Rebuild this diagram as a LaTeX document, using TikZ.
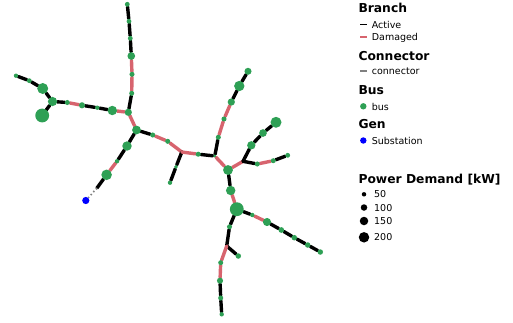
\documentclass[tikz,border=0pt]{standalone}
\usepackage{fontspec}
\setmainfont{DejaVu Sans}
\usetikzlibrary{backgrounds}
\definecolor{busgreen}{RGB}{46,160,85}
\definecolor{dmgred}{RGB}{215,100,110}
\definecolor{congray}{RGB}{128,128,128}
\definecolor{genblue}{RGB}{0,0,255}
\tikzset{
  bus/.style={circle, fill=busgreen, draw=none, inner sep=0pt, minimum size=#1},
  gen/.style={circle, fill=genblue, draw=none, inner sep=0pt, minimum size=#1},
  active/.style={draw=black, line width=3.4pt, line cap=round},
  damaged/.style={draw=dmgred, line width=3.4pt, line cap=round},
  conn/.style={draw=congray, line width=1.6pt, dash pattern=on 1.5pt off 2.5pt},
  legdot/.style={circle, fill=black, draw=none, inner sep=0pt, minimum size=#1},
  head/.style={anchor=base west, inner sep=0pt, font=\fontsize{12.3}{14}\selectfont\bfseries},
  item/.style={anchor=base west, inner sep=0pt, font=\fontsize{9.5}{11}\selectfont},
  legline/.style={line width=1.1pt},
}
\newcommand\BB[4]{\node[bus={1.1*#4pt}] (#1) at (#2,#3) {};}
\begin{document}
\begin{tikzpicture}[x=1pt,y=-1pt]
\useasboundingbox (0,0) rectangle (513,322);
% top branch
\BB{n1}{127.3}{4.3}{4.4}
\BB{n2}{129}{21.3}{4.4}
\BB{n3}{130.3}{38.3}{4.4}
\BB{n4}{131.3}{56}{7}
\BB{n5}{132}{74.3}{4.6}
\BB{n6}{131.7}{93.3}{4.6}
\BB{J1}{128.3}{112.3}{6.6}
% left branch
\BB{L1}{16}{75.7}{4}
\BB{L2}{29.3}{80.7}{4.4}
\BB{L3}{42.7}{88.5}{10}
\BB{L4}{52.5}{101.5}{8.4}
\BB{L5}{42.2}{115.5}{12.6}
\BB{L6}{67.3}{102.5}{4.6}
\BB{L7}{82}{105.3}{5.6}
\BB{L8}{97.3}{107.7}{4}
\BB{L9}{112.3}{110.5}{8.6}
% towards substation
\BB{J2}{136.5}{130}{8}
\BB{S1}{127}{146}{8.6}
\BB{S2}{117}{161.3}{4}
\BB{S3}{106.6}{174.8}{9.6}
\coordinate (C) at (97,188);
\node[gen=7.2pt] (G) at (85.8,200.5) {};
% middle
\BB{M1}{152.7}{135}{4.6}
\BB{M2}{167.7}{141.3}{4.6}
\coordinate (J3) at (181.8,152);
\BB{P1}{176}{166.8}{3.6}
\BB{P2}{170}{182.7}{4}
\BB{Q1}{198.2}{154.2}{4.6}
\BB{J4}{214.8}{156}{3}
% upper right
\BB{U1}{218.3}{137.3}{4.6}
\BB{U2}{224}{119}{4.6}
\BB{U3}{231.3}{102}{6.6}
\BB{U4}{239.3}{86}{9.4}
\BB{U5}{248}{71.3}{6.4}
% right
\BB{K}{228}{170}{9}
\coordinate (J5) at (243,161.3);
\BB{R1}{251.3}{145.3}{7.6}
\BB{R2}{263}{133}{7}
\BB{R3}{276}{122.3}{10}
\BB{R4}{257.3}{164}{4.6}
\BB{R5}{273.3}{160.7}{4.6}
\BB{R6}{287.7}{155.3}{4.4}
% down
\BB{D1}{230.7}{190.5}{8.6}
\BB{D2}{236.8}{209.2}{12.6}
\BB{E1}{252.3}{215}{4}
\BB{E2}{267}{222}{7.4}
\BB{E3}{281.3}{230}{5.2}
\BB{E4}{294.3}{237.7}{5}
\BB{E5}{307.7}{245}{5}
\BB{E6}{320.3}{252}{5}
\BB{F1}{229.5}{226.8}{4.6}
\coordinate (J6) at (226.7,246);
\BB{F2}{238.3}{256}{5}
\BB{F3}{220.7}{262.7}{4.6}
\BB{F4}{220}{280.7}{5.6}
\BB{F5}{220.7}{298}{4.6}
\BB{F6}{221.7}{314.3}{4}
\begin{pgfonlayer}{background}
\draw[active] (n1) -- (n2);
\draw[active] (n2) -- (n3);
\draw[active] (n3) -- (n4);
\draw[damaged] (n4) -- (n5);
\draw[damaged] (n5) -- (n6);
\draw[active] (n6) -- (J1);
\draw[active] (L1) -- (L2);
\draw[active] (L2) -- (L3);
\draw[active] (L3) -- (L4);
\draw[active] (L4) -- (L5);
\draw[active] (L4) -- (L6);
\draw[damaged] (L6) -- (L7);
\draw[active] (L7) -- (L8);
\draw[active] (L8) -- (L9);
\draw[damaged] (L9) -- (J1);
\draw[damaged] (J1) -- (J2);
\draw[active] (J2) -- (S1);
\draw[active] (S1) -- (S2);
\draw[damaged] (S2) -- (S3);
\draw[active] (S3) -- (C);
\draw[conn] (C) -- (G);
\draw[active] (J2) -- (M1);
\draw[damaged] (M1) -- (M2);
\draw[damaged] (M2) -- (J3);
\draw[active] (J3) -- (P1);
\draw[active] (P1) -- (P2);
\draw[damaged] (J3) -- (Q1);
\draw[active] (Q1) -- (J4);
\draw[active] (J4) -- (U1);
\draw[damaged] (U1) -- (U2);
\draw[damaged] (U2) -- (U3);
\draw[active] (U3) -- (U4);
\draw[active] (U4) -- (U5);
\draw[damaged] (J4) -- (K);
\draw[damaged] (K) -- (J5);
\draw[active] (J5) -- (R1);
\draw[active] (R1) -- (R2);
\draw[active] (R2) -- (R3);
\draw[active] (J5) -- (R4);
\draw[damaged] (R4) -- (R5);
\draw[active] (R5) -- (R6);
\draw[active] (K) -- (D1);
\draw[damaged] (D1) -- (D2);
\draw[active] (D2) -- (E1);
\draw[damaged] (E1) -- (E2);
\draw[active] (E2) -- (E3);
\draw[active] (E3) -- (E4);
\draw[active] (E4) -- (E5);
\draw[active] (E5) -- (E6);
\draw[active] (D2) -- (F1);
\draw[active] (F1) -- (J6);
\draw[active] (J6) -- (F2);
\draw[damaged] (J6) -- (F3);
\draw[damaged] (F3) -- (F4);
\draw[active] (F4) -- (F5);
\draw[active] (F5) -- (F6);
\end{pgfonlayer}
% legend
\node[head] (hb) at (358.3,12.7) {Branch};
\coordinate (la1) at (360,24.3); \coordinate (la2) at (366.5,24.3);
\draw[legline, black] (la1) -- (la2);
\node[item] (ta) at (371.7,28) {Active};
\coordinate (ld1) at (360,37); \coordinate (ld2) at (366.5,37);
\draw[legline, dmgred] (ld1) -- (ld2);
\node[item] (td) at (371.7,40.7) {Damaged};
\node[head] (hc) at (358.3,60) {Connector};
\coordinate (lc1) at (360,71); \coordinate (lc2) at (366.5,71);
\draw[legline, congray] (lc1) -- (lc2);
\node[item] (tc) at (371.7,74.7) {connector};
\node[head] (hbus) at (358.3,94.3) {Bus};
\node[bus=6.4pt] (lb) at (363.3,106.3) {};
\node[item] (tb) at (371.7,110) {bus};
\node[head] (hg) at (358.3,128.7) {Gen};
\node[gen=6.4pt] (lg) at (363.3,140.5) {};
\node[item] (tg) at (371.7,144) {Substation};
\node[head] (hp) at (358.3,183.3) {Power Demand [kW]};
\node[legdot=4.5pt] (d50) at (364,194.3) {};
\node[item] (t50) at (374,197.7) {50};
\node[legdot=6.5pt] (d100) at (364,207.5) {};
\node[item] (t100) at (374,211) {100};
\node[legdot=8.5pt] (d150) at (364,221) {};
\node[item] (t150) at (374,224.7) {150};
\node[legdot=10.5pt] (d200) at (364,237.3) {};
\node[item] (t200) at (374,240.7) {200};
\end{tikzpicture}
\end{document}
